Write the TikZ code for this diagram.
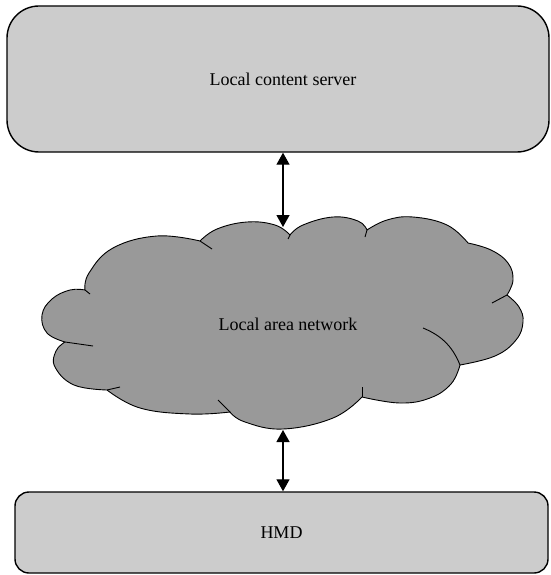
\documentclass[tikz,border=0pt]{standalone}
\usepackage{fontspec}
\setmainfont{Liberation Serif}
\usetikzlibrary{arrows.meta}
\definecolor{boxgray}{HTML}{CCCCCC}
\definecolor{cloudgray}{HTML}{999999}
\tikzset{
  serverbox/.style={draw=black, line width=1.4pt, fill=boxgray, inner sep=0pt,
    font=\fontsize{18}{20}\selectfont},
  link/.style={line width=1.3pt, {Triangle[length=12pt,width=13pt]}-{Triangle[length=12pt,width=13pt]}},
  cloudline/.style={draw=black, line width=0.9pt, fill=cloudgray, line join=round},
  seam/.style={draw=black, line width=0.9pt},
  labeltext/.style={font=\fontsize{18}{20}\selectfont}
}
\begin{document}
\begin{tikzpicture}[x=1pt, y=-1pt]
\useasboundingbox (0,0) rectangle (550,575);
% boxes
\node[serverbox, rounded corners=32pt, minimum width=542pt, minimum height=146pt] (server) at (278,79) {\hspace*{10pt}Local content server};
\node[serverbox, rounded corners=14pt, minimum width=533pt, minimum height=81pt] (hmd) at (281.5,532.5) {HMD};
% cloud
\path[cloudline] (85,290)
  -- plot[smooth, tension=0.7] coordinates {(85,290) (89,273) (113,248) (157,236) (200,241)}
  -- plot[smooth, tension=0.7] coordinates {(200,241) (217,229) (247,222) (275,225) (290,235)}
  -- plot[smooth, tension=0.7] coordinates {(290,235) (303,225) (333,217) (358,221) (367,230)}
  -- plot[smooth, tension=0.7] coordinates {(367,230) (387,220) (413,217) (447,225) (468,243)}
  -- plot[smooth, tension=0.7] coordinates {(468,243) (491,250) (508,263) (513,280) (507,295)}
  -- plot[smooth, tension=0.7] coordinates {(507,295) (519,307) (523,322) (516,340) (495,356) (460,365)}
  -- plot[smooth, tension=0.7] coordinates {(460,365) (451,384) (430,398) (400,403) (362,397)}
  -- plot[smooth, tension=0.7] coordinates {(362,397) (333,418) (283,429) (245,422) (230,412)}
  -- plot[smooth, tension=0.7] coordinates {(230,412) (190,414) (140,408) (107,390)}
  -- plot[smooth, tension=0.7] coordinates {(107,390) (74,385) (55,367) (56,351) (65,342)}
  -- plot[smooth, tension=0.7] coordinates {(65,342) (47,333) (42,315) (52,299) (70,290) (85,290)}
  -- cycle;
% cloud seams
\draw[seam] (85,290) -- (90,294);
\draw[seam] (200,241) -- (212,249);
\draw[seam] (290,235) -- (288,239);
\draw[seam] (367,230) -- (365,237);
\draw[seam] (507,295) -- (492,303);
\draw[seam] (460,365) .. controls (452,345) and (440,335) .. (423,328);
\draw[seam] (362,397) -- (362,387);
\draw[seam] (230,412) -- (218,400);
\draw[seam] (107,390) -- (120,387);
\draw[seam] (65,342) -- (93,346);
\node[labeltext] (lan) at (288,324) {Local area network};
% connectors
\coordinate (cloudtop) at (283,227);
\coordinate (cloudbottom) at (283,430);
\draw[link] (server.south -| cloudtop) -- (cloudtop);
\draw[link] (cloudbottom) -- (hmd.north -| cloudbottom);
\end{tikzpicture}
\end{document}
